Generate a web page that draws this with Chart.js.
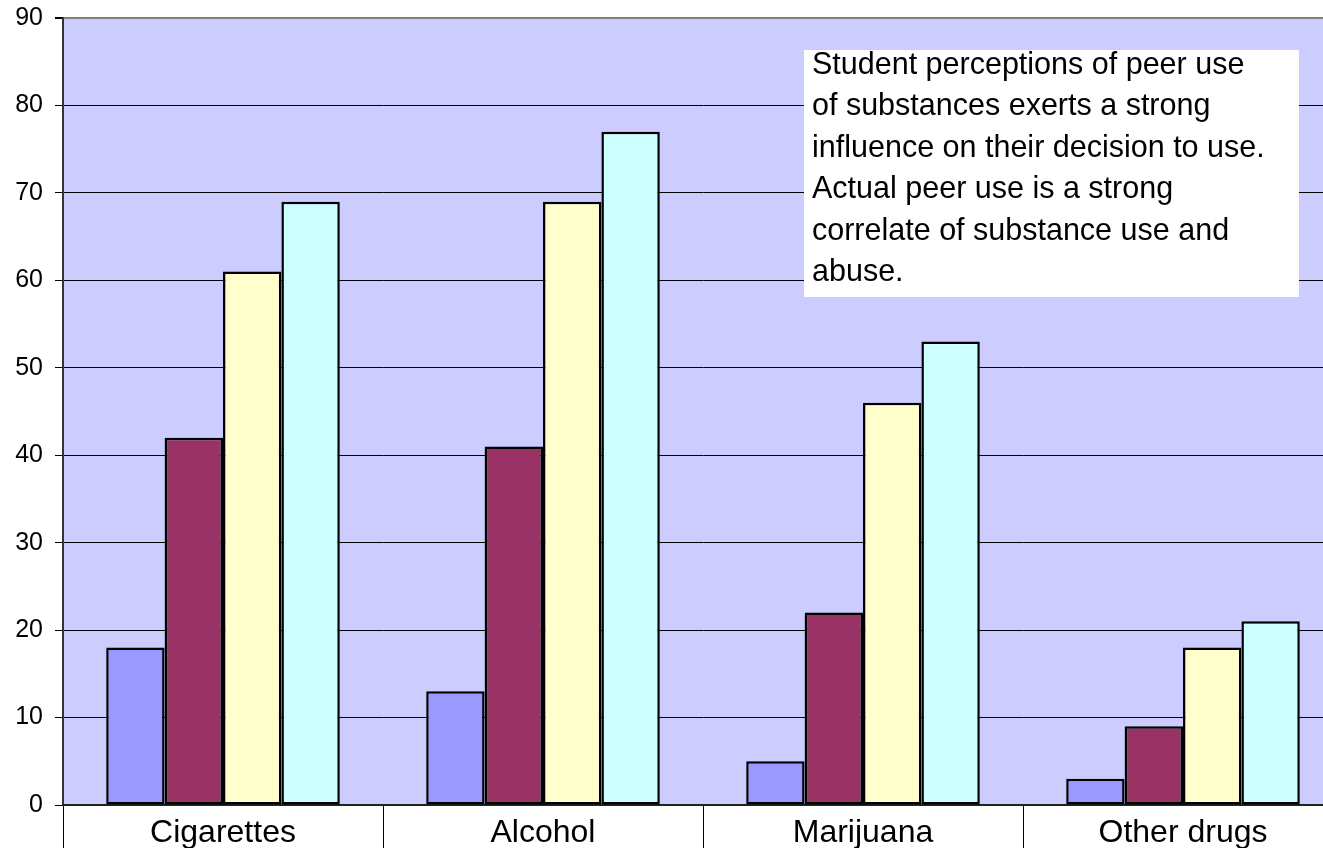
<!DOCTYPE html>
<html>
<head>
<meta charset="utf-8">
<script src="https://cdn.jsdelivr.net/npm/chart.js@4/dist/chart.umd.min.js"></script>
<style>
  html, body { margin: 0; padding: 0; background: #fff; overflow: hidden; }
  #clip { width: 1323px; height: 848px; overflow: hidden; position: relative; }
  /* plot runs past the right edge in the original, so the canvas is wider than the window */
  #wrap { width: 1343px; height: 848px; position: relative; }
</style>
</head>
<body>
<div id="clip"><div id="wrap"><canvas id="peerChart"></canvas></div></div>
<script>
// --- Data ---
const categories = ['Cigarettes', 'Alcohol', 'Marijuana', 'Other drugs'];
const series1 = [18, 13, 5, 3];
const series2 = [42, 41, 22, 9];
const series3 = [61, 69, 46, 18];
const series4 = [69, 77, 53, 21];
const seriesColors = ['#9999FF', '#993366', '#FFFFCC', '#CCFFFF'];
const noteLines = [
    'Student perceptions of peer use',
    'of substances exerts a strong',
    'influence on their decision to use.',
    'Actual peer use is a strong',
    'correlate of substance use and',
    'abuse.'
];

const FONT = "Arial, 'Liberation Sans', sans-serif";

// plot background
const plotBg = {
    id: 'plotBg',
    beforeDraw(chart) {
        const { ctx, chartArea: a } = chart;
        ctx.save();
        ctx.fillStyle = '#CCCCFF';
        ctx.fillRect(a.left, a.top, a.right - a.left, a.bottom - a.top);
        ctx.restore();
    }
};

// white note box, top right
const noteBox = {
    id: 'noteBox',
    afterDatasetsDraw(chart) {
        const ctx = chart.ctx;
        ctx.save();
        ctx.fillStyle = '#fff';
        ctx.fillRect(804, 50, 495, 247);
        ctx.fillStyle = '#000';
        ctx.font = '30.5px ' + FONT;
        ctx.textBaseline = 'alphabetic';
        noteLines.forEach((line, i) => {
            ctx.fillText(line, 812, 74 + i * 41.4);
        });
        ctx.restore();
    }
};

const datasets = [series1, series2, series3, series4].map((d, i) => ({
    data: d,
    backgroundColor: seriesColors[i],
    borderColor: '#000',
    borderWidth: 2.5,
    borderSkipped: false,
    barPercentage: 1,
    categoryPercentage: 0.73
}));

new Chart(document.getElementById('peerChart'), {
    type: 'bar',
    data: { labels: categories, datasets: datasets },
    plugins: [plotBg, noteBox],
    options: {
        responsive: true,
        maintainAspectRatio: false,
        animation: false,
        layout: { padding: { top: 18, right: 0, left: 0, bottom: 0 } },
        plugins: {
            legend: { display: false },
            tooltip: { enabled: false }
        },
        scales: {
            y: {
                min: 0,
                max: 90,
                afterFit(scale) {
                    scale.width = 63;
                    scale.paddingTop = 0;
                    scale.paddingBottom = 0;
                },
                ticks: {
                    stepSize: 10,
                    padding: 12,
                    color: '#000',
                    font: { family: FONT, size: 25 }
                },
                grid: {
                    color: c => (c.tick && c.tick.value === 90 ? '#808080' : '#000'),
                    lineWidth: c => (c.tick && c.tick.value === 90 ? 2 : 1),
                    tickColor: '#000',
                    tickLength: 8
                },
                border: { color: '#333', width: 2 }
            },
            x: {
                afterFit(scale) {
                    scale.height = 43;
                    scale.paddingLeft = 0;
                    scale.paddingRight = 0;
                },
                ticks: {
                    padding: -34,
                    color: '#000',
                    font: { family: FONT, size: 32 }
                },
                grid: {
                    offset: true,
                    drawOnChartArea: false,
                    color: '#000',
                    tickLength: 43
                },
                border: { color: '#222', width: 2 }
            }
        }
    }
});
</script>
</body>
</html>
